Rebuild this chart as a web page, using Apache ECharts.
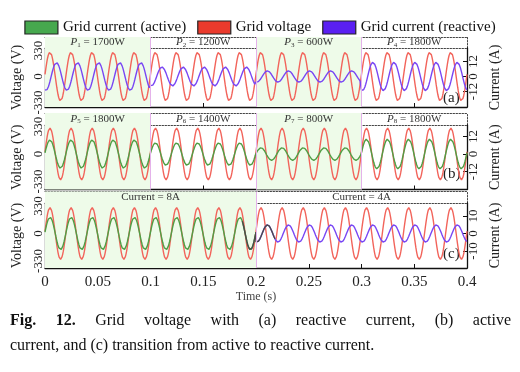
<!DOCTYPE html>
<html><head><meta charset="utf-8">
<script src="https://cdn.jsdelivr.net/npm/echarts@6/dist/echarts.min.js"></script>
<style>html,body{margin:0;padding:0;background:#fff}#c{width:520px;height:372px}</style>
</head><body><div id="c"></div><script>
// ---------------- data ----------------
const timeTicks = [0, 0.05, 0.1, 0.15, 0.2, 0.25, 0.3, 0.35, 0.4];
const gridFrequencyHz = 50;
const voltageAmplitude = 311;        // V (peak)
const voltagePhaseDeg = 5;
const reactiveLagDeg = 110;
const segmentEdgesAB = [0, 0.1, 0.2, 0.3, 0.4];
const panelAPowerLabels = ['1700W', '1200W', '600W', '1800W'];
const panelAReactiveAmps = [11.2, 7.6, 4.5, 11.4];   // A (peak)
const panelBPowerLabels = ['1800W', '1400W', '800W', '1800W'];
const panelBActiveAmps = [9.7, 7.7, 4.3, 10.2];      // A (peak)
const segmentEdgesC = [0, 0.2, 0.4];
const panelCLabels = ['Current = 8A', 'Current = 4A'];
const panelCActiveAmps = [9.3];
const panelCReactiveAmps = [4.9];
const transitionWindow = [0.187, 0.2, 0.218];
const voltageTicks = [-330, 0, 330];
const currentTicksAB = [-12, 0, 12];
const currentTicksC = [-10, 0, 10];
const shadedAB = [0, 2];
const shadedC = [0];

// ---------------- build ----------------
const FONT = 'Liberation Serif';
const omega = 2 * Math.PI * gridFrequencyHz;
const rad = d => d * Math.PI / 180;
function sampled(edges, amps, phaseDeg) {
  const out = [];
  for (let i = 0; i < amps.length; i++) {
    const a = edges[i], b = edges[i + 1];
    const n = Math.round((b - a) / 0.0002);
    for (let k = 0; k <= n; k++) {
      const t = a + k * (b - a) / n;
      out.push([t, amps[i] * Math.sin(omega * t + rad(phaseDeg))]);
    }
  }
  return out;
}
const voltageData = sampled([0, 0.4], [voltageAmplitude], voltagePhaseDeg);
const reactivePhase = voltagePhaseDeg - reactiveLagDeg;

const COL = {red: '#f2645b', blue: '#7846f4', green: '#4f9e45', gray: '#4a4a4a',
  shade: '#eefbe9', divider: '#e4b2ea', frame: '#444'};

// layout per panel: frameTop, bandBottom, bottom, voltage min/max, current min/max
const panels = [
  {top: 37, band: 48, bottom: 107, vmin: -387, vmax: 362, imin: -24.4, imax: 22.8, iticks: currentTicksAB},
  {top: 113, band: 125, bottom: 189.5, vmin: -426, vmax: 348, imin: -24.3, imax: 19.9, iticks: currentTicksAB},
  {top: 191.5, band: 203, bottom: 268, vmin: -414, vmax: 366, imin: -19.7, imax: 17.4, iticks: currentTicksC}
];
const LEFT = 45, RIGHT = 53;

const grids = [], xAxes = [], yAxes = [], series = [];
const dotted = {show: true, onZero: false, lineStyle: {color: COL.frame, type: [1.5, 1.5], width: 1}};
const solid = {show: true, onZero: false, lineStyle: {color: '#111', width: 1.3}};

function bandLabelRich(sub, val) {
  return '{i|P}{s|' + sub + '}{n| = ' + val + '}';
}

panels.forEach((p, idx) => {
  grids.push({left: LEFT, right: RIGHT, top: p.top, height: p.band - p.top});
  grids.push({left: LEFT, right: RIGHT, top: p.band, height: p.bottom - p.band});
  const gb = idx * 2, gp = idx * 2 + 1;
  const hidden = {show: true, axisTick: {show: false}, axisLabel: {show: false}, splitLine: {show: false}};
  // band axes
  xAxes.push(Object.assign({type: 'value', gridIndex: gb, min: 0, max: 0.4, position: 'top', axisLine: dotted}, hidden));
  xAxes.push(Object.assign({type: 'value', gridIndex: gb, min: 0, max: 0.4, position: 'bottom', axisLine: dotted}, hidden));
  yAxes.push(Object.assign({type: 'value', gridIndex: gb, min: 0, max: 1, position: 'left', axisLine: dotted}, hidden));
  yAxes.push(Object.assign({type: 'value', gridIndex: gb, min: 0, max: 1, position: 'right', axisLine: dotted}, hidden));
  // plot axes
  xAxes.push({type: 'value', gridIndex: gp, min: 0, max: 0.4, interval: 0.05, position: 'bottom',
    axisLine: solid, axisTick: {show: true, inside: true, length: 4, lineStyle: {color: '#111'}},
    splitLine: {show: false},
    axisLabel: {show: idx === 2, fontFamily: FONT, fontSize: 15, color: '#222', margin: 7,
      formatter: v => String(+v.toFixed(2))},
    name: idx === 2 ? 'Time (s)' : '', nameLocation: 'middle', nameGap: 20,
    nameTextStyle: {fontFamily: FONT, fontSize: 12, color: '#444'}});
  yAxes.push({type: 'value', gridIndex: gp, min: p.vmin, max: p.vmax, position: 'left',
    axisLine: solid, splitLine: {show: false},
    axisTick: {show: true, inside: true, length: 4, customValues: voltageTicks, lineStyle: {color: '#111'}},
    axisLabel: {customValues: voltageTicks, rotate: 90, fontFamily: FONT, fontSize: 13, color: '#222', margin: 0},
    name: 'Voltage (V)', nameLocation: 'middle', nameRotate: 90, nameGap: 13,
    nameTextStyle: {fontFamily: FONT, fontSize: 14, color: '#222'}});
  yAxes.push({type: 'value', gridIndex: gp, min: p.imin, max: p.imax, position: 'right',
    axisLine: solid, splitLine: {show: false},
    axisTick: {show: true, inside: true, length: 4, customValues: p.iticks, lineStyle: {color: '#111'}},
    axisLabel: {customValues: p.iticks, rotate: 90, fontFamily: FONT, fontSize: 13, color: '#222', margin: 0},
    name: 'Current (A)', nameLocation: 'middle', nameRotate: 90, nameGap: 12,
    nameTextStyle: {fontFamily: FONT, fontSize: 14, color: '#222'}});
});

const xi = (p, k) => p * 3 + k, yi = (p, k) => p * 4 + k;

function bandSeries(p, edges, labels, shaded, subStart) {
  return {type: 'line', name: 'band' + p, xAxisIndex: xi(p, 0), yAxisIndex: yi(p, 0), data: [], silent: true,
    markArea: {silent: true,
      label: {show: true, position: 'inside', fontFamily: FONT, fontSize: 11, color: '#333',
        rich: {i: {fontStyle: 'italic', fontFamily: FONT, fontSize: 11, color: '#333'},
               s: {fontFamily: FONT, fontSize: 7, color: '#333', padding: [5, 0, 0, 0]},
               n: {fontFamily: FONT, fontSize: 11, color: '#333'}}},
      data: labels.map((lab, i) => [{xAxis: edges[i], name: lab,
        itemStyle: {color: shaded.includes(i) ? COL.shade : 'rgba(0,0,0,0)'},
        label: {formatter: subStart ? bandLabelRich(subStart + i, lab) : lab}}, {xAxis: edges[i + 1]}])},
    markLine: {silent: true, symbol: 'none', label: {show: false},
      lineStyle: {color: COL.divider, type: 'solid', width: 1},
      data: edges.slice(1, -1).map(e => ({xAxis: e}))}};
}
function voltageSeries(p, edges, shaded) {
  return {type: 'line', name: 'Grid voltage', xAxisIndex: xi(p, 2), yAxisIndex: yi(p, 2), data: voltageData,
    showSymbol: false, color: COL.red, lineStyle: {width: 1.4, color: COL.red}, z: 2,
    markArea: {silent: true, itemStyle: {color: COL.shade},
      data: shaded.map(i => [{xAxis: edges[i]}, {xAxis: edges[i + 1]}])},
    markLine: {silent: true, symbol: 'none', label: {show: false},
      lineStyle: {color: COL.divider, type: 'solid', width: 1},
      data: edges.slice(1, -1).map(e => ({xAxis: e}))}};
}
function currentSeries(p, name, data, color, z) {
  return {type: 'line', name, xAxisIndex: xi(p, 2), yAxisIndex: yi(p, 3), data, showSymbol: false,
    color, lineStyle: {width: 1.4, color}, z: z || 3};
}

series.push(bandSeries(0, segmentEdgesAB, panelAPowerLabels, shadedAB, 1));
series.push(voltageSeries(0, segmentEdgesAB, shadedAB));
series.push(currentSeries(0, 'Grid current (reactive)', sampled(segmentEdgesAB, panelAReactiveAmps, reactivePhase), COL.blue));

series.push(bandSeries(1, segmentEdgesAB, panelBPowerLabels, shadedAB, 5));
series.push(voltageSeries(1, segmentEdgesAB, shadedAB));
series.push(currentSeries(1, 'Grid current (active)', sampled(segmentEdgesAB, panelBActiveAmps, voltagePhaseDeg), COL.green));

series.push(bandSeries(2, segmentEdgesC, panelCLabels, shadedC, 0));
series.push(voltageSeries(2, segmentEdgesC, shadedC));
series.push(currentSeries(2, 'Grid current (active)', sampled(segmentEdgesC.slice(0, 2), panelCActiveAmps, voltagePhaseDeg), COL.green));
series.push(currentSeries(2, 'Grid current (reactive)', sampled(segmentEdgesC.slice(1), panelCReactiveAmps, reactivePhase), COL.blue));
series.push(currentSeries(2, 'transition',
  sampled(transitionWindow.slice(0, 2), panelCActiveAmps, voltagePhaseDeg)
    .concat(sampled(transitionWindow.slice(1), panelCReactiveAmps, reactivePhase)), COL.gray, 4));

// caption (justified first line)
const ctx = document.createElement('canvas').getContext('2d');
const CAP = 16;
function measure(t, bold) { ctx.font = (bold ? 'bold ' : '') + CAP + 'px "' + FONT + '"'; return ctx.measureText(t).width; }
const line1 = [['Fig.', 1], ['12.', 1], ['Grid', 0], ['voltage', 0], ['with', 0], ['(a)', 0], ['reactive', 0], ['current,', 0], ['(b)', 0], ['active', 0]];
const capL = 10, capR = 511;
const w1 = line1.map(w => measure(w[0], w[1]));
const gap = (capR - capL - w1.reduce((a, b) => a + b, 0)) / (line1.length - 1);
const graphics = [];
let cx = capL;
line1.forEach((w, i) => {
  graphics.push({type: 'text', left: cx, top: 313, silent: true,
    style: {text: w[0], font: (w[1] ? 'bold ' : '') + CAP + 'px "' + FONT + '"', fill: '#111'}});
  cx += w1[i] + gap;
});
graphics.push({type: 'text', left: capL, top: 338, silent: true,
  style: {text: 'current, and (c) transition from active to reactive current.', font: CAP + 'px "' + FONT + '"', fill: '#111'}});
[['(a)', 91], ['(b)', 167], ['(c)', 247]].forEach(([t, y]) => graphics.push({type: 'text', left: 443, top: y, silent: true,
  style: {text: t, font: '15px "' + FONT + '"', fill: '#222'}}));

const chart = echarts.init(document.getElementById('c'));
chart.setOption({
  animation: false,
  backgroundColor: '#fff',
  legend: {top: 15, left: 'center', icon: 'rect', itemWidth: 33, itemHeight: 13, itemGap: 11,
    itemStyle: {borderColor: '#222', borderWidth: 1.2},
    textStyle: {fontFamily: FONT, fontSize: 15, color: '#111'},
    data: [{name: 'Grid current (active)', itemStyle: {color: '#46a84e'}},
           {name: 'Grid voltage', itemStyle: {color: '#ea3a2c'}},
           {name: 'Grid current (reactive)', itemStyle: {color: '#5a1ff2'}}]},
  grid: grids, xAxis: xAxes, yAxis: yAxes, series, graphic: graphics
});
</script></body></html>
